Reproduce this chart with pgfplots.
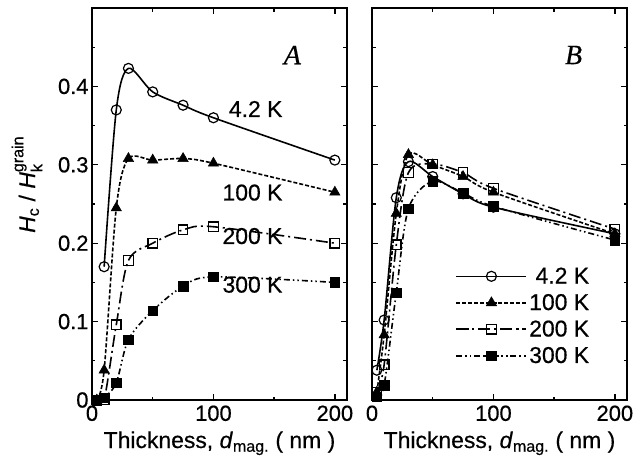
\documentclass[border=0pt]{standalone}
\usepackage{fontspec}
\setmainfont{Liberation Sans}[FakeBold=0.5]
\newfontfamily\serif{Liberation Serif}[FakeBold=0.5]
\usepackage{amsmath}
\usepackage{pgfplots}
\pgfplotsset{compat=1.18}

\pgfplotsset{
  panel/.style={
    scale only axis, width=255bp, height=392bp,
    xmin=0, xmax=210, ymin=0, ymax=0.5,
    xtick={0,100,200}, minor xtick={50,150},
    ytick={0,0.1,0.2,0.3,0.4}, minor ytick={0.05,0.15,0.25,0.35,0.45},
    tick align=inside, major tick length=6bp, minor tick length=3.5bp,
    axis line style={line width=1.7bp},
    every tick/.style={black, line width=1.3bp},
    tick label style={font=\fontsize{22}{26}\selectfont},
    xticklabel style={yshift=-2bp},
    /pgf/number format/assume math mode=true,
    xlabel={Thickness, \textit{d}\textsubscript{mag.} ( nm )},
    every axis x label/.style={at={(axis description cs:0.5,0)}, anchor=base,
      yshift=-48bp, font=\fontsize{23}{27}\selectfont},
    legend image code/.code={%
      \draw[mark repeat=2,mark phase=2] plot coordinates {(0bp,0bp) (35bp,0bp) (70bp,0bp)};},
  },
  sA/.style={black, line width=1.6bp, smooth, mark=o, mark size=5bp,
    mark options={solid, fill=white, line width=1.2bp}},
  sB/.style={black, line width=1.6bp, smooth, dash pattern=on 4bp off 2bp,
    mark=triangle*, mark size=6bp, mark options={solid, fill=black, line width=0.5bp}},
  sC/.style={black, line width=1.6bp, smooth, dash pattern=on 12bp off 4bp on 2bp off 4bp,
    mark=square, mark size=4.8bp, mark options={solid, fill=white, line width=1.2bp}},
  sD/.style={black, line width=1.6bp, smooth,
    dash pattern=on 6bp off 3bp on 1.5bp off 3bp on 1.5bp off 3bp,
    mark=square*, mark size=4.8bp, mark options={solid, fill=black, line width=0.5bp}},
}

\begin{document}
\begin{tikzpicture}
% panel A
\begin{axis}[panel,
  ylabel={\textit{H}\textsubscript{c} / \textit{H}$_{\text{k}}^{\text{grain}}$},
  every axis y label/.style={at={(axis description cs:-0.255,0.55)}, rotate=90,
    anchor=center, font=\fontsize{23}{27}\selectfont},
]
\addplot[sA] coordinates {(10,0.170) (20,0.370) (30,0.423) (50,0.393) (75,0.376) (100,0.360) (200,0.306)};
\addplot[sB] coordinates {(4,0) (10,0.038) (20,0.245) (30,0.308) (50,0.306) (75,0.308) (100,0.302) (200,0.265)};
\addplot[sC] coordinates {(4,0) (10,0) (20,0.096) (30,0.178) (50,0.200) (75,0.217) (100,0.221) (200,0.200)};
\addplot[sD] coordinates {(4,0) (10,0.003) (20,0.022) (30,0.077) (50,0.114) (75,0.145) (100,0.157) (200,0.150)};
\node[font=\serif\itshape\fontsize{28}{32}\selectfont] at (axis cs:165,0.44) {A};
\begin{scope}[every node/.style={anchor=base east, font=\fontsize{23}{27}\selectfont, inner sep=0pt}]
\node at (axis cs:157,0.361) {4.2 K};
\node at (axis cs:157,0.2545) {100 K};
\node at (axis cs:157,0.199) {200 K};
\node at (axis cs:157,0.137) {300 K};
\end{scope}
\end{axis}
% panel B
\begin{axis}[panel, at={(280bp,0)}, anchor=south west, yticklabels={},
  legend cell align=right,
  legend style={at={(0.86,0.085)}, anchor=south east, draw=none, fill=none,
    font=\fontsize{23}{27}\selectfont, inner sep=0bp, row sep=5bp},
]
\addplot[sA] coordinates {(4,0.038) (10,0.102) (20,0.258) (30,0.304) (50,0.285) (75,0.263) (100,0.246) (200,0.212)};
\addlegendentry{4.2 K}
\addplot[sB] coordinates {(4,0.010) (10,0.083) (20,0.238) (30,0.313) (50,0.300) (75,0.285) (100,0.265) (200,0.212)};
\addlegendentry{100 K}
\addplot[sC] coordinates {(4,0.010) (10,0.045) (20,0.198) (30,0.290) (50,0.301) (75,0.290) (100,0.270) (200,0.218)};
\addlegendentry{200 K}
\addplot[sD] coordinates {(4,0.004) (10,0.019) (20,0.137) (30,0.244) (50,0.279) (75,0.264) (100,0.247) (200,0.204)};
\addlegendentry{300 K}
\node[font=\serif\itshape\fontsize{28}{32}\selectfont] at (axis cs:166,0.44) {B};
\end{axis}
\path (-92bp,-64bp) rectangle (552bp,400bp);
\end{tikzpicture}
\end{document}
